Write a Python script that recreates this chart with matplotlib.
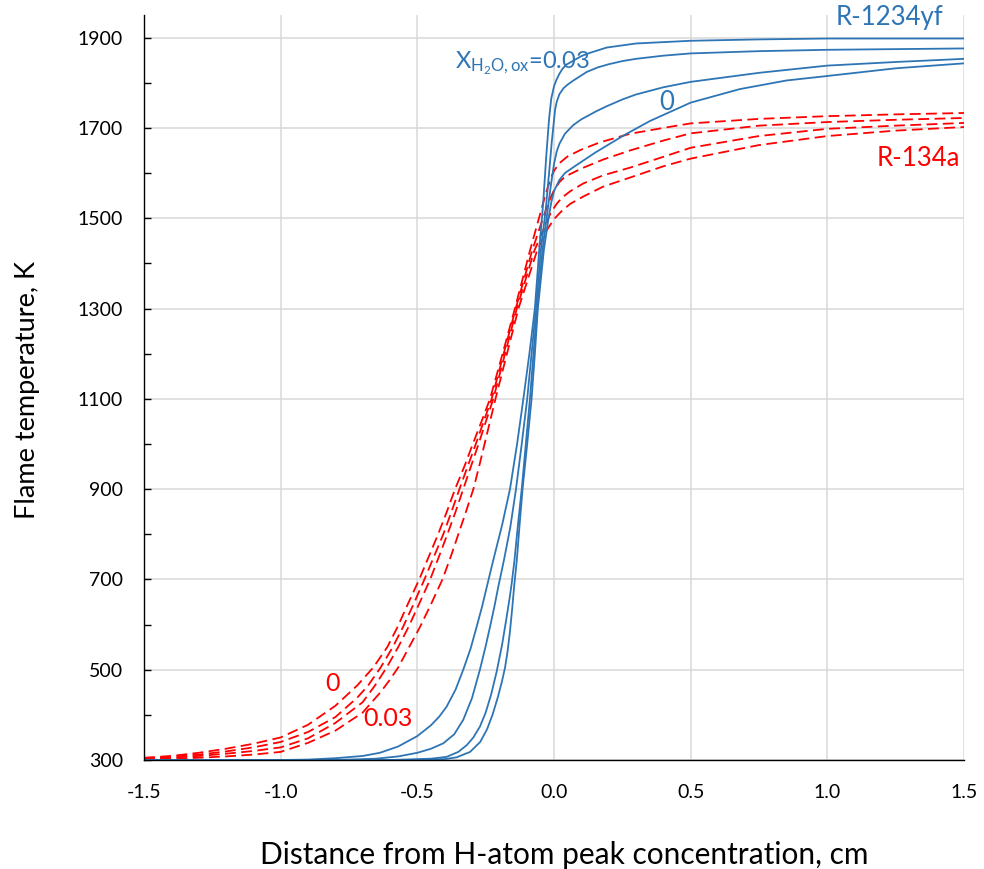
import matplotlib
matplotlib.use("Agg")
import matplotlib.pyplot as plt
from matplotlib.ticker import MultipleLocator, FormatStrFormatter

plt.rcParams['font.family'] = ['Lato', 'DejaVu Sans']
plt.rcParams['mathtext.fontset'] = 'custom'
plt.rcParams['mathtext.rm'] = 'Lato'
plt.rcParams['mathtext.it'] = 'Lato'

# R-1234yf (solid blue), four water fractions
yf1_x = [-1.5, -1.0, -0.9, -0.8, -0.7, -0.637, -0.57, -0.5, -0.45, -0.42, -0.393, -0.36, -0.332, -0.305, -0.283,
         -0.263, -0.246, -0.222, -0.19, -0.161, -0.135, -0.112, -0.09, -0.07, -0.054, -0.04, -0.028, -0.018,
         -0.01, 0.0, 0.01, 0.02, 0.03, 0.045, 0.071, 0.1, 0.13, 0.193, 0.3, 0.5, 0.75, 1.0, 1.5]
yf1_t = [300, 300, 301, 304, 309, 316, 330, 353, 377, 396, 418, 456, 500, 547, 595,
         640, 683, 743, 820, 900, 1000, 1100, 1200, 1300, 1430, 1530, 1640, 1720,
         1765, 1792, 1808, 1820, 1830, 1840, 1849, 1859, 1866, 1878, 1887, 1893, 1896, 1898, 1898]
yf2_x = [-1.5, -0.8, -0.65, -0.57, -0.5, -0.45, -0.405, -0.365, -0.332, -0.3, -0.271, -0.25, -0.234, -0.218,
         -0.204, -0.183, -0.16, -0.139, -0.118, -0.098, -0.082, -0.066, -0.048, -0.03, -0.018, -0.008, 0.004,
         0.01, 0.02, 0.035, 0.05, 0.071, 0.12, 0.16, 0.2, 0.25, 0.3, 0.4, 0.5, 0.75, 1.0, 1.5]
yf2_t = [300, 300, 303, 308, 316, 325, 337, 357, 389, 437, 500, 552, 595, 640,
         683, 743, 815, 900, 1000, 1100, 1200, 1300, 1430, 1520, 1600, 1670, 1740,
         1758, 1775, 1788, 1796, 1805, 1824, 1834, 1841, 1848, 1853, 1860, 1865, 1870, 1873, 1876]
yf3_x = [-1.5, -0.6, -0.45, -0.393, -0.35, -0.319, -0.295, -0.271, -0.25, -0.23, -0.21, -0.19, -0.175, -0.162,
         -0.155, -0.145, -0.132, -0.118, -0.103, -0.088, -0.075, -0.062, -0.042, -0.025, -0.012, 0.0, 0.01,
         0.02, 0.04, 0.07, 0.1, 0.155, 0.193, 0.25, 0.3, 0.4, 0.5, 0.75, 1.0, 1.25, 1.5]
yf3_t = [300, 300, 303, 307, 318, 333, 350, 374, 405, 445, 495, 555, 610, 660,
         690, 740, 820, 900, 1000, 1100, 1200, 1300, 1430, 1510, 1570, 1620, 1648,
         1665, 1687, 1706, 1719, 1737, 1748, 1763, 1774, 1790, 1802, 1822, 1838, 1846, 1853]
yf4_x = [-1.5, -0.5, -0.4, -0.356, -0.307, -0.27, -0.245, -0.225, -0.205, -0.19, -0.179, -0.17, -0.161, -0.153,
         -0.146, -0.136, -0.126, -0.115, -0.098, -0.082, -0.07, -0.059, -0.037, -0.02, -0.01, 0.0, 0.02, 0.04,
         0.071, 0.15, 0.254, 0.35, 0.5, 0.68, 0.85, 1.0, 1.25, 1.5]
yf4_t = [300, 300, 302, 306, 318, 340, 368, 400, 440, 475, 505, 540, 585, 635,
         683, 743, 820, 900, 1000, 1100, 1200, 1300, 1430, 1500, 1535, 1560, 1585, 1600,
         1613, 1645, 1683, 1715, 1756, 1786, 1805, 1815, 1832, 1843]

# R-134a (dashed red), four water fractions
a1_x = [-1.5, -1.4, -1.3, -1.2, -1.1, -1.0, -0.9, -0.8, -0.72, -0.661, -0.61, -0.572, -0.535, -0.493, -0.455,
        -0.424, -0.392, -0.362, -0.328, -0.297, -0.265, -0.234, -0.188, -0.143, -0.088, -0.055, -0.03, -0.012,
        0.0, 0.02, 0.05, 0.1, 0.168, 0.278, 0.4, 0.5, 0.75, 1.0, 1.25, 1.5]
a1_t = [305, 309, 316, 325, 336, 350, 378, 420, 465, 505, 550, 595, 645, 700, 755,
        800, 850, 900, 950, 1000, 1050, 1100, 1200, 1300, 1428, 1500, 1555, 1588,
        1605, 1622, 1637, 1652, 1668, 1687, 1700, 1710, 1720, 1726, 1730, 1733]
a2_x = [-1.5, -1.4, -1.3, -1.2, -1.1, -1.0, -0.9, -0.8, -0.72, -0.68, -0.634, -0.59, -0.552, -0.514, -0.474,
        -0.436, -0.405, -0.375, -0.346, -0.316, -0.286, -0.257, -0.228, -0.184, -0.14, -0.08, -0.042, -0.02,
        0.0, 0.02, 0.04, 0.1, 0.18, 0.278, 0.4, 0.5, 0.75, 1.0, 1.25, 1.5]
a2_t = [304, 307, 312, 319, 328, 340, 362, 395, 438, 465, 505, 550, 595, 645, 700,
        755, 800, 850, 900, 950, 1000, 1050, 1100, 1200, 1300, 1428, 1497, 1535,
        1562, 1580, 1592, 1610, 1630, 1650, 1672, 1688, 1705, 1713, 1718, 1722]
a3_x = [-1.5, -1.4, -1.3, -1.2, -1.1, -1.0, -0.9, -0.8, -0.7, -0.655, -0.612, -0.57, -0.532, -0.494, -0.453,
        -0.418, -0.39, -0.36, -0.332, -0.304, -0.276, -0.249, -0.222, -0.179, -0.136, -0.072, -0.035, -0.012,
        0.01, 0.03, 0.06, 0.107, 0.18, 0.278, 0.4, 0.5, 0.75, 1.0, 1.25, 1.5]
a3_t = [303, 305, 309, 314, 320, 328, 348, 382, 428, 465, 505, 550, 595, 645, 700,
        755, 800, 850, 900, 950, 1000, 1050, 1100, 1200, 1300, 1428, 1480, 1512,
        1532, 1546, 1560, 1577, 1595, 1612, 1636, 1656, 1682, 1698, 1705, 1711]
a4_x = [-1.5, -1.4, -1.3, -1.2, -1.1, -1.0, -0.9, -0.8, -0.7, -0.635, -0.6, -0.57, -0.53, -0.49, -0.45,
        -0.408, -0.375, -0.35, -0.322, -0.295, -0.274, -0.254, -0.234, -0.214, -0.172, -0.13, -0.062, -0.03,
        0.0, 0.03, 0.06, 0.107, 0.18, 0.278, 0.4, 0.5, 0.75, 1.0, 1.25, 1.5]
a4_t = [302, 303, 305, 308, 312, 318, 338, 365, 405, 450, 478, 505, 550, 595, 645,
        700, 755, 800, 850, 900, 950, 1000, 1050, 1100, 1200, 1300, 1428, 1470,
        1498, 1517, 1532, 1548, 1570, 1590, 1615, 1632, 1662, 1682, 1694, 1702]

yf_curves = [(yf1_x, yf1_t), (yf2_x, yf2_t), (yf3_x, yf3_t), (yf4_x, yf4_t)]
a_curves = [(a1_x, a1_t), (a2_x, a2_t), (a3_x, a3_t), (a4_x, a4_t)]

blue = '#2E75B6'
red = '#FF0000'

fig = plt.figure(figsize=(9.84, 8.69), dpi=100)
ax = fig.add_axes([0.1463, 0.1254, 0.8334, 0.8573])

for x, t in a_curves:
    ax.plot(x, t, color=red, lw=1.3, dashes=(6, 3))
for x, t in yf_curves:
    ax.plot(x, t, color=blue, lw=1.3)

ax.set_xlim(-1.5, 1.5)
ax.set_ylim(300, 1950)
ax.xaxis.set_major_locator(MultipleLocator(0.5))
ax.xaxis.set_major_formatter(FormatStrFormatter('%.1f'))
ax.set_yticks(range(300, 2000, 200))
ax.yaxis.set_minor_locator(MultipleLocator(100))

ax.grid(True, which='major', color='#d9d9d9', lw=1.1)
ax.set_axisbelow(True)
for s in ['top', 'right']:
    ax.spines[s].set_visible(False)
ax.spines['left'].set_linewidth(1.0)
ax.spines['bottom'].set_linewidth(1.0)

ax.tick_params(axis='x', length=0, pad=17, labelsize=14)
ax.tick_params(axis='y', which='both', direction='in', length=5, width=1, pad=15, labelsize=14)

ax.text(-0.1415, 0.497, 'Flame temperature, K', transform=ax.transAxes, rotation=90,
        ha='center', va='center', fontsize=19.5)
ax.text(0.513, -0.1275, 'Distance from H-atom peak concentration, cm', transform=ax.transAxes,
        ha='center', va='center', fontsize=21.5)

ax.text(1.229, 1944, 'R-1234yf', color=blue, fontsize=18.5, ha='center', va='center')
ax.text(-0.115, 1845, r'$\mathrm{X_{H_2O,ox}}$=0.03', color=blue, fontsize=17, ha='center', va='center')
ax.text(0.413, 1756, '0', color=blue, fontsize=18.5, ha='center', va='center')
ax.text(1.332, 1632, 'R-134a', color=red, fontsize=18.5, ha='center', va='center')
ax.text(-0.809, 470, '0', color=red, fontsize=18, ha='center', va='center')
ax.text(-0.607, 393, '0.03', color=red, fontsize=18, ha='center', va='center')

fig.savefig('out.png', dpi=100)
